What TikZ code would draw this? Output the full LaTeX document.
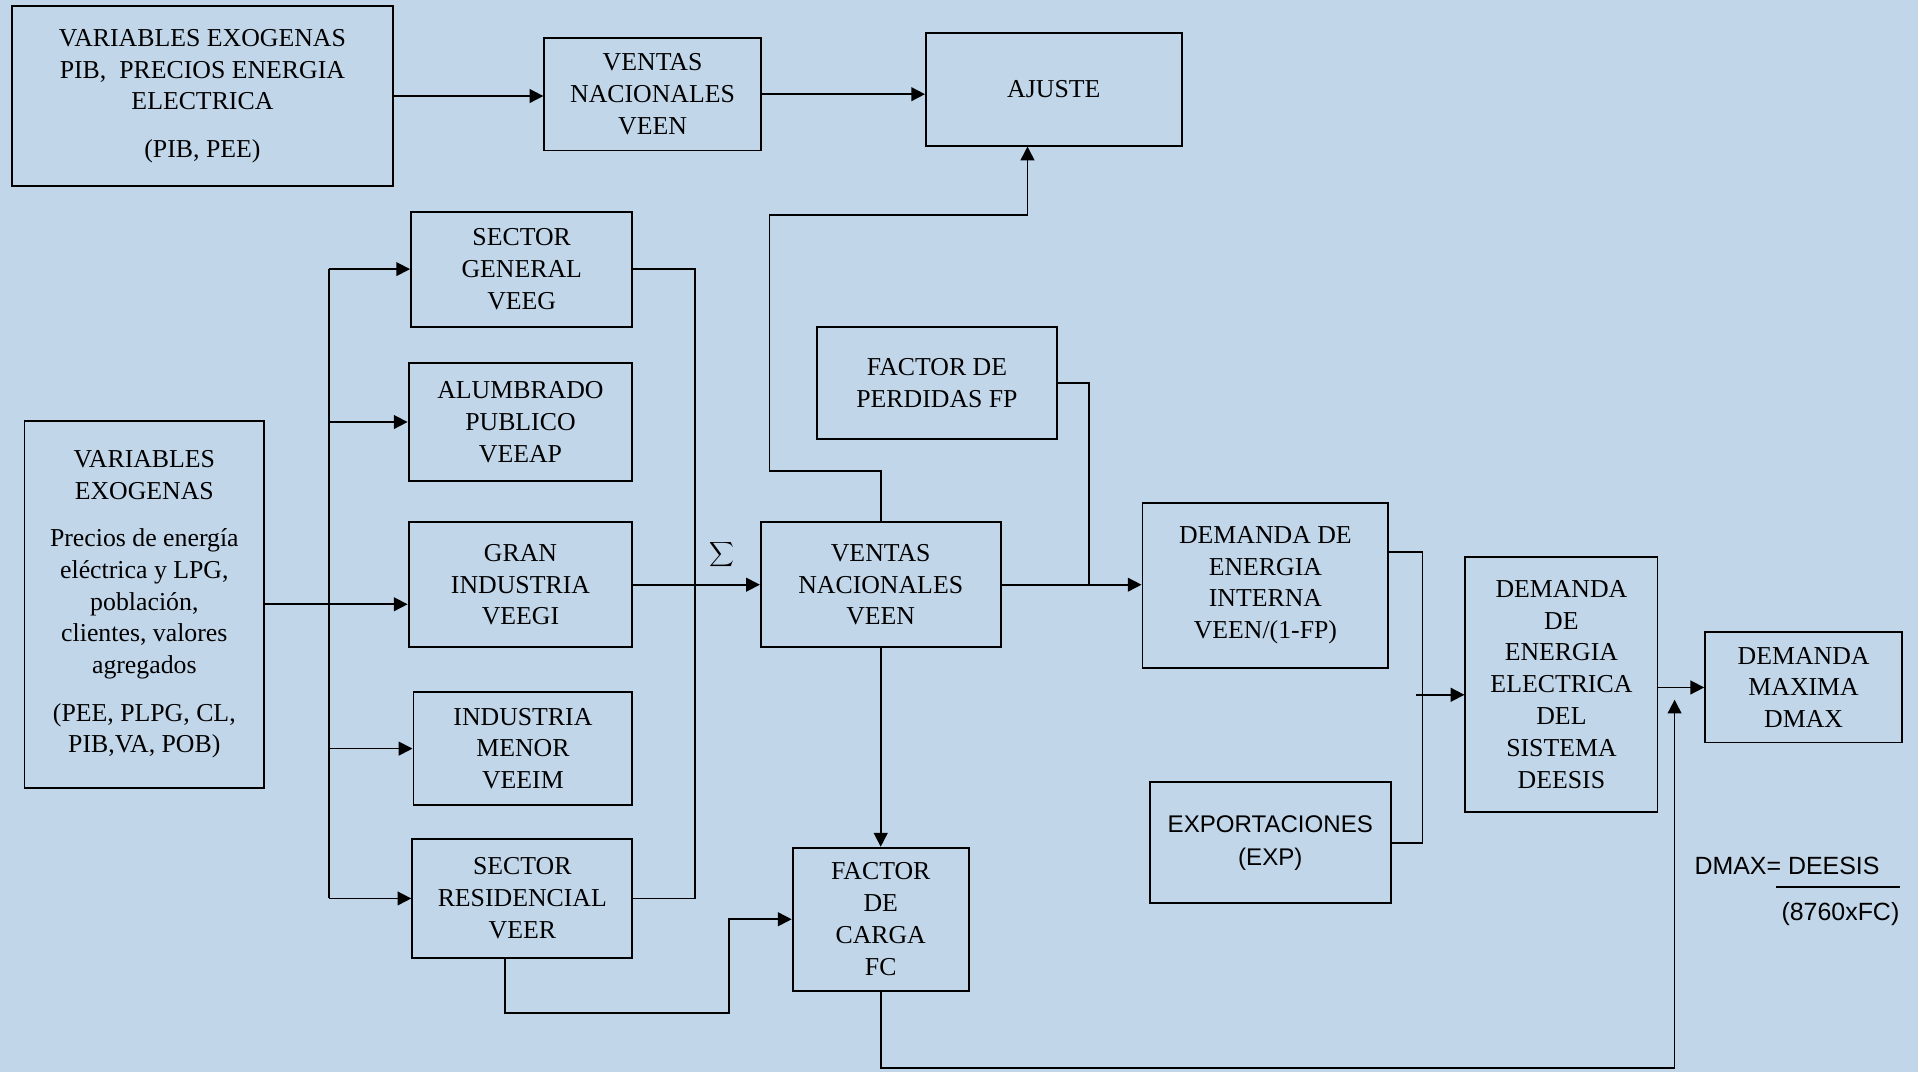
\documentclass[tikz,border=0pt]{standalone}
\usepackage{fontspec}
\setmainfont{Liberation Serif}
\newfontfamily\sansfnt{Liberation Sans}
\usetikzlibrary{arrows.meta}
\definecolor{fondo}{RGB}{194,214,234}

\begin{document}
\begin{tikzpicture}[x=0.025cm, y=-0.025cm,
    caja/.style={draw, line width=1.1pt, align=center, inner sep=1pt, font=\fontsize{15}{18.5}\selectfont},
    tam/.style 2 args={minimum width=#1*0.025cm, minimum height=#2*0.025cm},
    flecha/.style={line width=1pt, -{Triangle[length=8pt,width=8pt]}},
    linea/.style={line width=1pt}]

  % background
  \fill[fondo] (0,0) rectangle (1568,876);
  \useasboundingbox (0,0) rectangle (1568,876);

  % Draw top row
  \node[caja, tam={311}{147}] (ve1) at (165.5,78.5) {VARIABLES EXOGENAS\\PIB,\ \ PRECIOS ENERGIA\\ELECTRICA\\[9pt](PIB, PEE)};
  \node[caja, tam={177}{92}] (vn1) at (533.5,77) {VENTAS\\NACIONALES\\VEEN};
  \node[caja, tam={209}{92}] (aj) at (861.5,73) {AJUSTE};

  % Draw sectors
  \node[caja, tam={196}{300}] (ve2) at (118,494) {VARIABLES\\EXOGENAS\\[9pt]Precios de energía\\eléctrica y LPG,\\población,\\clientes, valores\\agregados\\[9pt](PEE, PLPG, CL,\\PIB,VA, POB)};
  \node[caja, tam={181}{94}] (sg) at (426.5,220) {SECTOR\\GENERAL\\VEEG};
  \node[caja, tam={183}{96}] (ap) at (425.5,345) {ALUMBRADO\\PUBLICO\\VEEAP};
  \node[caja, tam={183}{102}] (gi) at (425.5,478) {GRAN\\INDUSTRIA\\VEEGI};
  \node[caja, tam={179}{92}] (im) at (427.5,612) {INDUSTRIA\\MENOR\\VEEIM};
  \node[caja, tam={180}{97}] (sr) at (427,734.5) {SECTOR\\RESIDENCIAL\\VEER};

  % Draw middle and right boxes
  \node[caja, tam={196}{102}] (vn2) at (720,478) {VENTAS\\NACIONALES\\VEEN};
  \node[caja, tam={196}{92}] (fp) at (766,313) {FACTOR DE\\PERDIDAS FP};
  \node[caja, tam={144}{117}] (fc) at (720,751.5) {FACTOR\\DE\\CARGA\\FC};
  \node[caja, tam={201}{135}] (ddi) at (1034.5,478.5) {DEMANDA DE\\ENERGIA\\INTERNA\\VEEN/(1-FP)};
  \node[caja, tam={197}{99}, font=\sansfnt\fontsize{14}{19}\selectfont] (exp) at (1038.5,689) {EXPORTACIONES\\(EXP)};
  \node[caja, tam={157}{209}] (ds) at (1276.5,559.5) {DEMANDA\\DE\\ENERGIA\\ELECTRICA\\DEL\\SISTEMA\\DEESIS};
  \node[caja, tam={161}{90}] (dm) at (1474.5,562) {DEMANDA\\MAXIMA\\DMAX};

  % Draw top arrows
  \draw[flecha] (ve1.east) -- (vn1.west |- ve1.east);
  \draw[flecha] (vn1.east) -- (aj.west |- vn1.east);

  % Draw distribution bus
  \coordinate (bus) at (269,0);
  \draw[linea] (bus |- sg.west) -- (bus |- sr.west);
  \draw[flecha] (ve2.east) -- (gi.west |- ve2.east);
  \foreach \n in {sg,ap,im,sr} {
    \draw[flecha] (bus |- \n.west) -- (\n.west);
  }

  % Draw sum
  \coordinate (col) at (568,0);
  \draw[linea] (sg.east) -| (col |- sr.east) -- (sr.east);
  \draw[flecha] (gi.east) -- (vn2.west);
  \node[font=\fontsize{18}{20}\selectfont] (suma) at (590,453) {$\displaystyle\sum$};

  % Draw feedback to ajuste
  \coordinate (k1) at (629,385);
  \coordinate (k2) at (840,176);
  \draw[flecha] (vn2.north) |- (k1) |- (k2) -- (k2 |- aj.south);

  % Draw losses and demand
  \coordinate (j1) at (890,478);
  \draw[linea] (fp.east) -| (j1);
  \draw[flecha] (vn2.east) -- (ddi.west |- vn2.east);
  \coordinate (j2) at (1163,568);
  \draw[linea] ([yshift=0.68cm]ddi.east) -| (j2 |- exp.east) -- (exp.east);
  \draw[flecha] ([xshift=-0.125cm]j2) -- (ds.west |- j2);
  \draw[flecha] (ds.east |- dm.west) -- (dm.west);

  % Draw load factor
  \draw[flecha] (vn2.south) -- (fc.north);
  \coordinate (j5) at (596,828);
  \draw[flecha] ([xshift=-0.35cm]sr.south) |- (j5) |- (fc.west);
  \coordinate (j4) at (1369,572);
  \coordinate (pie) at (0,873);
  \draw[flecha] (fc.south) |- (pie -| j4) -- (j4);

  % Add formula
  \node[anchor=west, font=\sansfnt\fontsize{14.5}{17}\selectfont, inner sep=0pt] (dmaxf) at (1385,708) {DMAX= DEESIS};
  \node[anchor=east, font=\sansfnt\fontsize{14.5}{17}\selectfont, inner sep=0pt] (div) at (1553,747) {(8760xFC)};
  \draw[linea] (1452,725) -- (1553,725);
\end{tikzpicture}
\end{document}
